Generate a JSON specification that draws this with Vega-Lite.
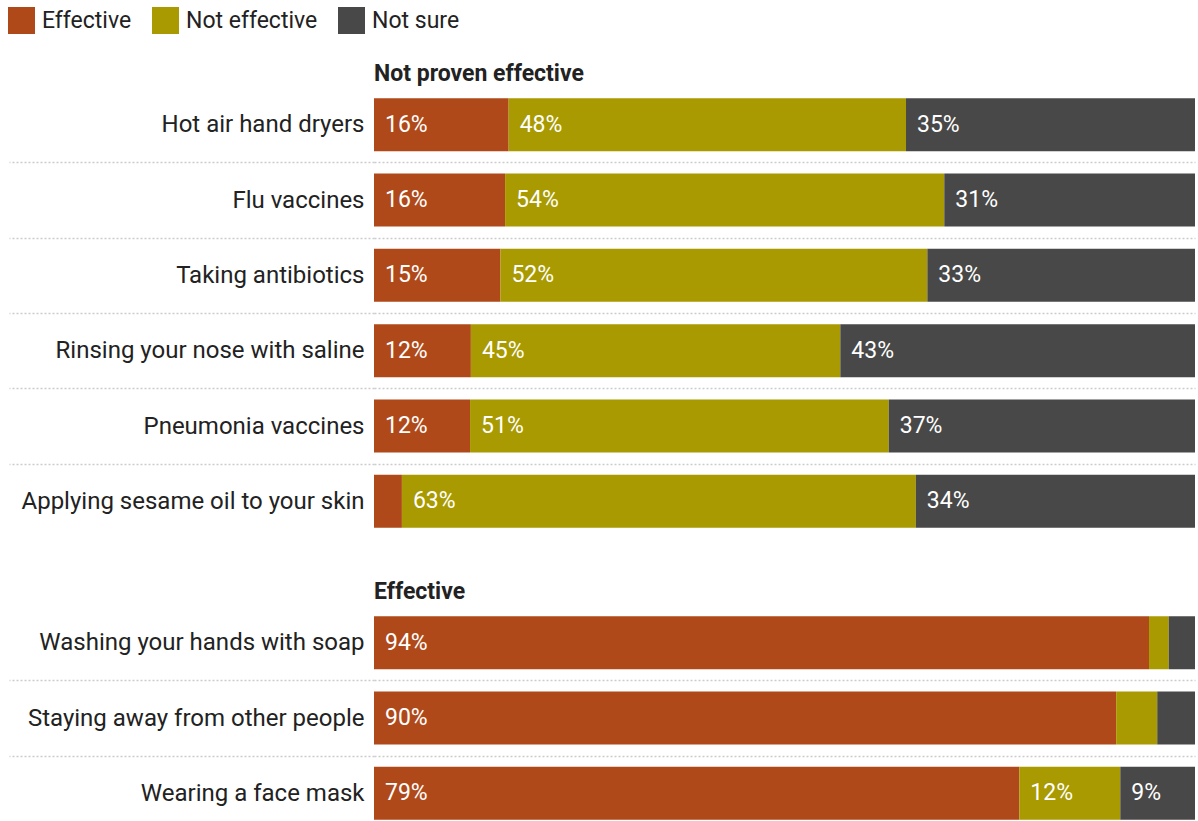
{
  "$schema": "https://vega.github.io/schema/vega-lite/v6.json",
  "background": "white",
  "padding": {"left": 8, "top": 7, "right": 4, "bottom": 0},
  "data": {"values": [
    {"item": "Hot air hand dryers", "group": "Not proven effective", "response": "Effective", "value": 16.4},
    {"item": "Hot air hand dryers", "group": "Not proven effective", "response": "Not effective", "value": 48.4},
    {"item": "Hot air hand dryers", "group": "Not proven effective", "response": "Not sure", "value": 35.2},
    {"item": "Flu vaccines", "group": "Not proven effective", "response": "Effective", "value": 16.0},
    {"item": "Flu vaccines", "group": "Not proven effective", "response": "Not effective", "value": 53.6},
    {"item": "Flu vaccines", "group": "Not proven effective", "response": "Not sure", "value": 30.6},
    {"item": "Taking antibiotics", "group": "Not proven effective", "response": "Effective", "value": 15.4},
    {"item": "Taking antibiotics", "group": "Not proven effective", "response": "Not effective", "value": 52.0},
    {"item": "Taking antibiotics", "group": "Not proven effective", "response": "Not sure", "value": 32.6},
    {"item": "Rinsing your nose with saline", "group": "Not proven effective", "response": "Effective", "value": 11.8},
    {"item": "Rinsing your nose with saline", "group": "Not proven effective", "response": "Not effective", "value": 45.0},
    {"item": "Rinsing your nose with saline", "group": "Not proven effective", "response": "Not sure", "value": 43.2},
    {"item": "Pneumonia vaccines", "group": "Not proven effective", "response": "Effective", "value": 11.7},
    {"item": "Pneumonia vaccines", "group": "Not proven effective", "response": "Not effective", "value": 51.0},
    {"item": "Pneumonia vaccines", "group": "Not proven effective", "response": "Not sure", "value": 37.3},
    {"item": "Applying sesame oil to your skin", "group": "Not proven effective", "response": "Effective", "value": 3.4},
    {"item": "Applying sesame oil to your skin", "group": "Not proven effective", "response": "Not effective", "value": 62.6},
    {"item": "Applying sesame oil to your skin", "group": "Not proven effective", "response": "Not sure", "value": 34.0},
    {"item": "Washing your hands with soap", "group": "Effective", "response": "Effective", "value": 94.4},
    {"item": "Washing your hands with soap", "group": "Effective", "response": "Not effective", "value": 2.4},
    {"item": "Washing your hands with soap", "group": "Effective", "response": "Not sure", "value": 3.2},
    {"item": "Staying away from other people", "group": "Effective", "response": "Effective", "value": 90.4},
    {"item": "Staying away from other people", "group": "Effective", "response": "Not effective", "value": 5.0},
    {"item": "Staying away from other people", "group": "Effective", "response": "Not sure", "value": 4.6},
    {"item": "Wearing a face mask", "group": "Effective", "response": "Effective", "value": 78.6},
    {"item": "Wearing a face mask", "group": "Effective", "response": "Not effective", "value": 12.3},
    {"item": "Wearing a face mask", "group": "Effective", "response": "Not sure", "value": 9.1}
  ]},
  "spacing": 42,
  "vconcat": [
    {
      "title": {"text": "Not proven effective"},
      "width": 821,
      "height": 452,
      "transform": [
        {"filter": "datum.group === 'Not proven effective'"},
        {"stack": "value", "groupby": ["item"], "sort": [{"field": "response"}], "offset": "normalize", "as": ["x0", "x1"]},
        {"calculate": "format(datum.value, '.0f') + '%'", "as": "label"}
      ],
      "encoding": {
        "y": {"field": "item", "type": "nominal", "sort": null, "scale": {"paddingInner": 0, "paddingOuter": 0}}
      },
      "layer": [
        {
          "mark": {"type": "bar", "height": {"band": 0.704}},
          "encoding": {
            "x": {"field": "x0", "type": "quantitative", "scale": {"domain": [0, 1]}, "axis": null},
            "x2": {"field": "x1"},
            "color": {"field": "response", "type": "nominal", "legend": {"orient": "none", "legendX": -366, "legendY": -80}}
          }
        },
        {
          "transform": [{"filter": "datum.value >= 8"}],
          "mark": {"type": "text", "align": "left", "baseline": "middle", "dx": 11, "color": "white", "fontSize": 23, "font": "Roboto"},
          "encoding": {
            "x": {"field": "x0", "type": "quantitative"},
            "text": {"field": "label"}
          }
        }
      ]
    },
    {
      "title": {"text": "Effective"},
      "width": 821,
      "height": 226,
      "transform": [
        {"filter": "datum.group === 'Effective'"},
        {"stack": "value", "groupby": ["item"], "sort": [{"field": "response"}], "offset": "normalize", "as": ["x0", "x1"]},
        {"calculate": "format(datum.value, '.0f') + '%'", "as": "label"}
      ],
      "encoding": {
        "y": {"field": "item", "type": "nominal", "sort": null, "scale": {"paddingInner": 0, "paddingOuter": 0}}
      },
      "layer": [
        {
          "mark": {"type": "bar", "height": {"band": 0.704}},
          "encoding": {
            "x": {"field": "x0", "type": "quantitative", "scale": {"domain": [0, 1]}, "axis": null},
            "x2": {"field": "x1"},
            "color": {"field": "response", "type": "nominal"}
          }
        },
        {
          "transform": [{"filter": "datum.value >= 8"}],
          "mark": {"type": "text", "align": "left", "baseline": "middle", "dx": 11, "color": "white", "fontSize": 23, "font": "Roboto"},
          "encoding": {
            "x": {"field": "x0", "type": "quantitative"},
            "text": {"field": "label"}
          }
        }
      ]
    }
  ],
  "resolve": {"scale": {"y": "independent"}},
  "config": {
    "view": {"stroke": null},
    "font": "Roboto",
    "title": {"anchor": "start", "frame": "group", "fontSize": 23, "font": "Roboto", "fontWeight": "bold", "color": "#222222", "offset": -11},
    "range": {"category": ["#b0491a", "#a89a00", "#484848"]},
    "axisY": {
      "title": null,
      "domain": false,
      "labelFontSize": 24,
      "labelFont": "Roboto",
      "labelColor": "#222222",
      "labelLimit": 400,
      "tickBand": "extent",
      "tickSize": 365,
      "tickColor": "#cccccc",
      "tickDash": [2, 2],
      "tickWidth": 1.5,
      "labelPadding": -355,
      "grid": true,
      "gridColor": "#cccccc",
      "gridDash": [2, 2],
      "gridWidth": 1.5,
      "tickOpacity": {"condition": {"test": "datum.index < 0 || datum.index >= 1", "value": 0}, "value": 1},
      "gridOpacity": {"condition": {"test": "datum.index < 0 || datum.index >= 1", "value": 0}, "value": 1}
    },
    "legend": {
      "direction": "horizontal",
      "title": null,
      "symbolType": "square",
      "symbolSize": 729,
      "symbolStrokeWidth": 0,
      "symbolOpacity": 1,
      "labelFontSize": 23,
      "labelFont": "Roboto",
      "labelColor": "#222222",
      "labelOffset": 7,
      "columnPadding": 20
    }
  }
}
